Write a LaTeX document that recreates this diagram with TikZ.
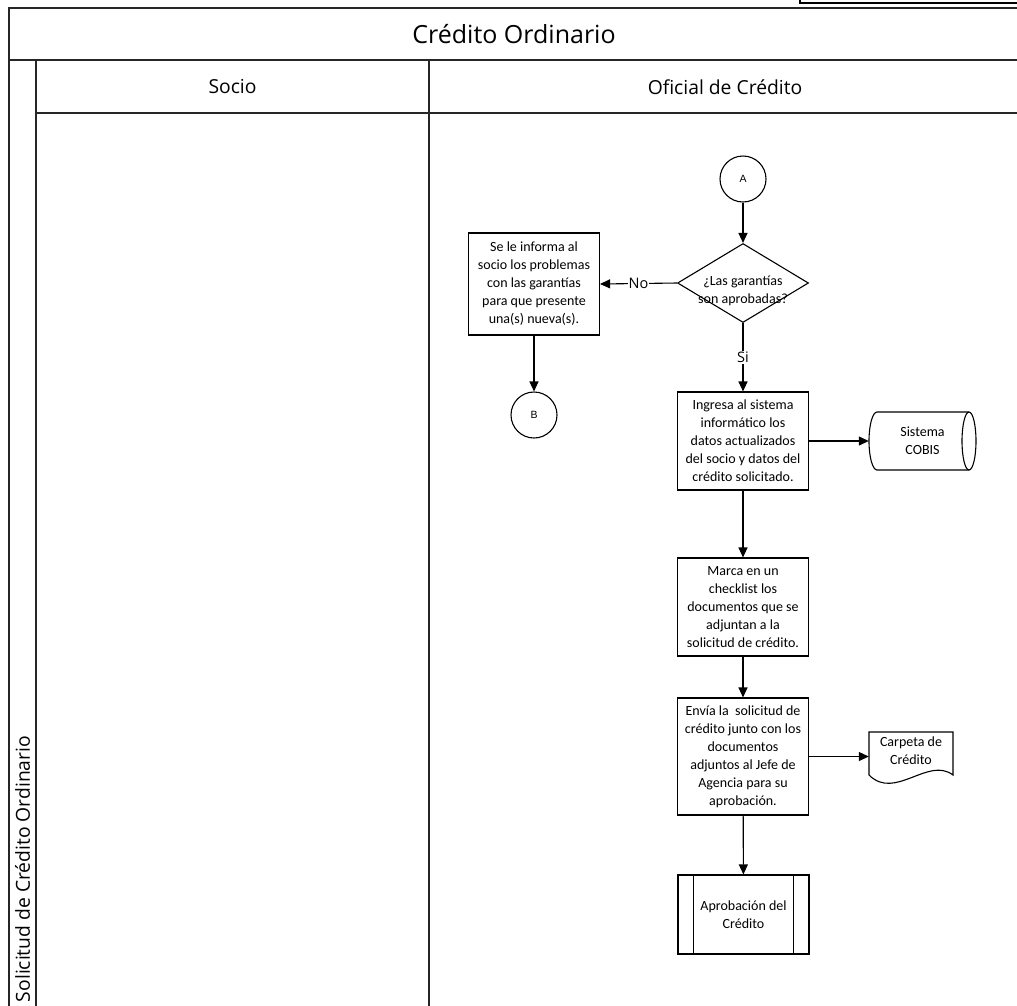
\documentclass[tikz,border=0pt]{standalone}
\usepackage{fontspec}
\setmainfont{Carlito}
\newfontfamily\headfont{Open Sans}
\newfontfamily\connfont{Liberation Sans}
\usetikzlibrary{shapes.geometric,arrows.meta}
\begin{document}
\begin{tikzpicture}[x=1pt,y=-1pt,
  lane/.style={line width=1.5pt, draw=black!85},
  proc/.style={draw, line width=1.1pt, align=center, font=\fontsize{14}{18}\selectfont,
    inner sep=0pt, minimum width=131pt},
  conn/.style={draw, circle, line width=1.1pt, minimum size=46pt, inner sep=0pt,
    font=\connfont\fontsize{10.5}{12}\selectfont},
  flow/.style={line width=1.1pt, -{Triangle[length=10pt,width=9pt]}},
  lbl/.style={fill=white, inner sep=1pt, font=\headfont\fontsize{14.5}{16}\selectfont},
  hdr/.style={font=\headfont\fontsize{19.3}{22}\selectfont},
  shapeline/.style={line width=1.1pt}
]
\clip (0,0) rectangle (1017,1005);

% pool frame, title row, lane header row and lane divider
\draw[lane] (9,1020) -- (9,8) -- (1020,8) -- (1020,1020);
\draw[lane] (9,60) -- (1020,60);
\draw[lane] (36,60) -- (36,1020);
\draw[lane] (36,113) -- (1020,113);
\draw[lane] (429,60) -- (429,1020);

% page stamp box at the upper right edge
\draw[line width=2.5pt] (800,-10) rectangle (1030,3);

% headers
\node[font=\headfont\fontsize{25}{28}\selectfont] (title) at (514,34) {Crédito Ordinario};
\node[hdr] (socio) at (232.5,87) {Socio};
\node[hdr] (oficial) at (725,87) {Oficial de Crédito};
\node[hdr, rotate=90] (pool) at (22.5,869) {Solicitud de Crédito Ordinario};

% connectors (off-page references)
\node[conn] (A) at (743,179) {A};
\node[conn] (B) at (534,415) {B};

% decision
\node[draw, diamond, shapeline, minimum width=131pt, minimum height=79pt, inner sep=0pt] (dec) at (743,283) {};
\node[font=\fontsize{14}{18}\selectfont, align=center, inner sep=0pt] (dectext) at (743,291) {¿Las garantías\\son aprobadas?};

% process steps
\node[proc, minimum height=102pt] (inform) at (534,284)
  {Se le informa al\\socio los problemas\\con las garantías\\para que presente\\una(s) nueva(s).};
\node[proc, minimum height=98pt] (ingresa) at (743,441)
  {Ingresa al sistema\\informático los\\datos actualizados\\del socio y datos del\\crédito solicitado.};
\node[proc, minimum height=98pt] (marca) at (743,607)
  {Marca en un\\checklist los\\documentos que se\\adjuntan a la\\solicitud de crédito.};
\node[proc, minimum height=117pt] (envia) at (743,756.5)
  {Envía la \ solicitud de\\crédito junto con los\\documentos\\adjuntos al Jefe de\\Agencia para su\\aprobación.};
\node[proc, minimum height=79pt] (aprob) at (743.5,914.5) {Aprobación del\\Crédito};
\draw[shapeline] ([xshift=16pt]aprob.north west) -- ([xshift=16pt]aprob.south west);
\draw[shapeline] ([xshift=-16pt]aprob.north east) -- ([xshift=-16pt]aprob.south east);

% stored data: Sistema COBIS
\node[minimum width=107pt, minimum height=58pt, inner sep=0pt, align=center,
  font=\fontsize{14}{18}\selectfont] (cobis) at (922.5,441) {Sistema\\COBIS};
\draw[shapeline] (877,412) -- (969,412)
  arc[start angle=90, end angle=-90, x radius=7pt, y radius=29pt] -- (877,470)
  arc[start angle=270, end angle=90, x radius=8pt, y radius=29pt];
\draw[shapeline] (969,412) arc[start angle=90, end angle=270, x radius=7pt, y radius=29pt];

% document: Carpeta de Crédito
\node[minimum width=84pt, minimum height=42pt, inner sep=0pt, align=center,
  font=\fontsize{14}{18}\selectfont] (carpeta) at (911,751) {Carpeta de\\Crédito};
\draw[shapeline] (869,775) -- (869,732) -- (953,732) -- (953,775)
  .. controls (928,756) and (895,801) .. (869,775);

% flow
\draw[flow] (A) -- (dec);
\draw[flow] (dec.west) -- node[lbl] (no) {No} (inform.east);
\draw[flow] (inform) -- (B);
\draw[flow] (dec.south) -- node[lbl] (si) {Si} (ingresa.north);
\draw[flow] (ingresa.east) -- (cobis.west);
\draw[flow] (ingresa) -- (marca);
\draw[flow] (marca) -- (envia);
\draw[flow] (envia.east) -- (envia.east -| carpeta.west);
\draw[flow] (envia) -- (aprob);
\end{tikzpicture}
\end{document}
